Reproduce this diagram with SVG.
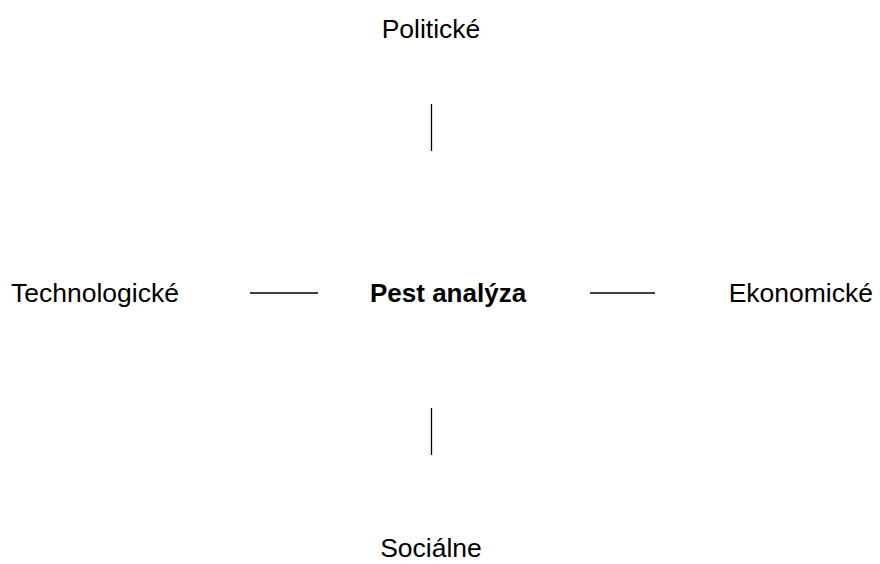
<svg xmlns="http://www.w3.org/2000/svg" width="880" height="564" viewBox="0 0 880 564">
<style>
text{font-family:"Liberation Sans",Arial,sans-serif;font-size:26.5px;fill:#000}
.b{font-weight:bold;font-size:26px}
.c line{stroke:#000;stroke-width:1.3}
</style>
<rect width="880" height="564" fill="#fff"/>
<g class="c" id="connectors">
<line x1="431.5" y1="104" x2="431.5" y2="151"/>
<line x1="431.5" y1="408" x2="431.5" y2="455"/>
<line x1="250" y1="293" x2="318" y2="293"/>
<line x1="590" y1="293" x2="655" y2="293"/>
</g>
<g id="n-pol"><text x="431" y="38" text-anchor="middle">Politické</text></g>
<g id="n-tech"><text x="11" y="302">Technologické</text></g>
<g id="n-pest"><text class="b" x="370" y="302">Pest analýza</text></g>
<g id="n-eko"><text x="873" y="302" text-anchor="end">Ekonomické</text></g>
<g id="n-soc"><text x="431" y="557" text-anchor="middle">Sociálne</text></g>
</svg>
